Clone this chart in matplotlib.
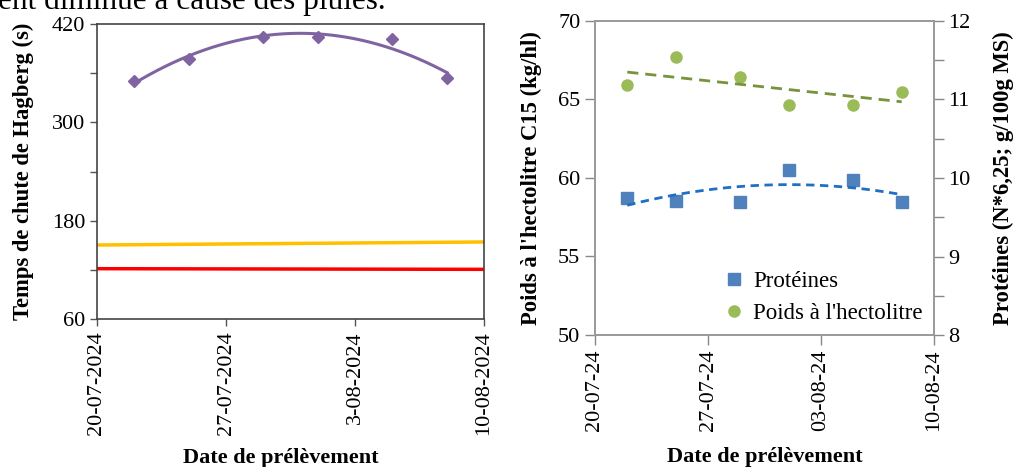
import matplotlib
matplotlib.use("Agg")
import matplotlib.pyplot as plt
import matplotlib.dates as mdates
import numpy as np
from datetime import datetime
from matplotlib.lines import Line2D

plt.rcParams['font.family'] = ['Liberation Serif', 'DejaVu Serif']

# ---- data ----
sample_dates = ["2024-07-22", "2024-07-25", "2024-07-29", "2024-08-01", "2024-08-05", "2024-08-08"]
hagberg = [350.5, 377.5, 404.5, 404, 402, 354]
line_yellow_x = ["2024-07-20", "2024-08-10"]
line_yellow_y = [150.3, 154.0]
line_red_x = ["2024-07-20", "2024-08-10"]
line_red_y = [121.4, 120.6]

poids = [65.9, 67.7, 66.45, 64.65, 64.65, 65.45]
proteines = [9.74, 9.71, 9.69, 10.10, 9.98, 9.69]

left_xticks = ["2024-07-20", "2024-07-27", "2024-08-03", "2024-08-10"]
left_xticklabels = ["20-07-2024", "27-07-2024", "3-08-2024", "10-08-2024"]
right_xticklabels = ["20-07-24", "27-07-24", "03-08-24", "10-08-24"]

def d(s):
    return mdates.date2num(datetime.strptime(s, "%Y-%m-%d"))

xd = np.array([d(s) for s in sample_dates])

fig = plt.figure(figsize=(10.13, 4.67), dpi=100)

# top clipped text (continuation of the document text above the figure)
fig.text(-0.002, 1 - 9 / 467, "ent diminué à cause des pluies.", fontsize=22.5,
         ha='left', va='baseline', color='black')

# ---------- left panel ----------
ax1 = fig.add_axes([97 / 1013, 1 - 319 / 467, 387 / 1013, 295 / 467])
purple = '#8064A2'
ax1.plot(xd, hagberg, linestyle='none', marker='D', markersize=6.5, color=purple)
c = np.polyfit(xd - xd[0], hagberg, 2)
xx = np.linspace(xd[0], xd[-1], 200)
ax1.plot(xx, np.polyval(c, xx - xd[0]), color=purple, lw=2.2)
ax1.plot([d(s) for s in line_yellow_x], line_yellow_y, color='#FFC000', lw=2.5)
ax1.plot([d(s) for s in line_red_x], line_red_y, color='#FF0000', lw=2.5)

ax1.set_xlim(d("2024-07-20"), d("2024-08-10"))
ax1.set_ylim(60, 420)
ax1.set_yticks([60, 120, 180, 240, 300, 360, 420])
ax1.set_yticklabels(["60", "", "180", "", "300", "", "420"])
ax1.set_xticks([d(s) for s in left_xticks])
ax1.set_xticklabels(left_xticklabels, rotation=90)
ax1.tick_params(axis='both', labelsize=16, color='#555555', length=5, width=1, direction='out')
ax1.tick_params(axis='x', pad=4)
for sp in ax1.spines.values():
    sp.set_color('#444444')
    sp.set_linewidth(1.2)
ax1.set_ylabel("Temps de chute de Hagberg (s)", fontsize=16.3, fontweight='bold', labelpad=13)
ax1.set_xlabel("Date de prélèvement", fontsize=16, fontweight='bold', labelpad=9)
ax1.xaxis.label.set_x(0.475)

# ---------- right panel ----------
ax2 = fig.add_axes([595 / 1013, 1 - 335 / 467, 339 / 1013, 314 / 467])
ax3 = ax2.twinx()
green = '#9BBB59'
blue = '#4F81BD'

ax2.plot(xd, poids, linestyle='none', marker='o', markersize=8, color=green)
cg = np.polyfit(xd - xd[0], poids, 1)
ax2.plot(xx, np.polyval(cg, xx - xd[0]), color='#77933C', lw=2, linestyle=(0, (4, 2.5)))

ax3.plot(xd, proteines, linestyle='none', marker='s', markersize=8, color=blue)
cb = np.polyfit(xd - xd[0], proteines, 2)
ax3.plot(xx, np.polyval(cb, xx - xd[0]), color='#1F6FC5', lw=2, linestyle=(0, (3, 2)))

ax2.set_xlim(d("2024-07-20"), d("2024-08-10"))
ax2.set_ylim(50, 70)
ax2.set_yticks([50, 55, 60, 65, 70])
ax3.set_ylim(8, 12)
ax3.set_yticks([8, 9, 10, 11, 12])
ax3.set_yticks(np.arange(8.5, 12, 1.0), minor=True)
ax2.set_xticks([d(s) for s in left_xticks])
ax2.set_xticklabels(right_xticklabels, rotation=90)
for a in (ax2, ax3):
    a.tick_params(axis='both', labelsize=16, color='#888888', length=7, width=1, direction='out')
    a.tick_params(axis='y', which='minor', color='#888888', length=7, width=1, direction='out')
    for sp in a.spines.values():
        sp.set_color('#999999')
        sp.set_linewidth(1.2)
ax2.set_ylabel("Poids à l'hectolitre C15 (kg/hl)", fontsize=16.3, fontweight='bold', labelpad=12)
ax3.set_ylabel("Protéines (N*6,25; g/100g MS)", fontsize=16.3, fontweight='bold', labelpad=16)
ax2.set_xlabel("Date de prélèvement", fontsize=16, fontweight='bold', labelpad=11.5)

handles = [Line2D([], [], linestyle='none', marker='s', markersize=8, color=blue),
           Line2D([], [], linestyle='none', marker='o', markersize=8, color=green)]
ax3.legend(handles, ["Protéines", "Poids à l'hectolitre"], loc='lower right', frameon=False,
           fontsize=16.5, handletextpad=0.35, borderaxespad=0.1, labelspacing=0.45,
           handlelength=1.0)

fig.savefig("out.png", dpi=100)
